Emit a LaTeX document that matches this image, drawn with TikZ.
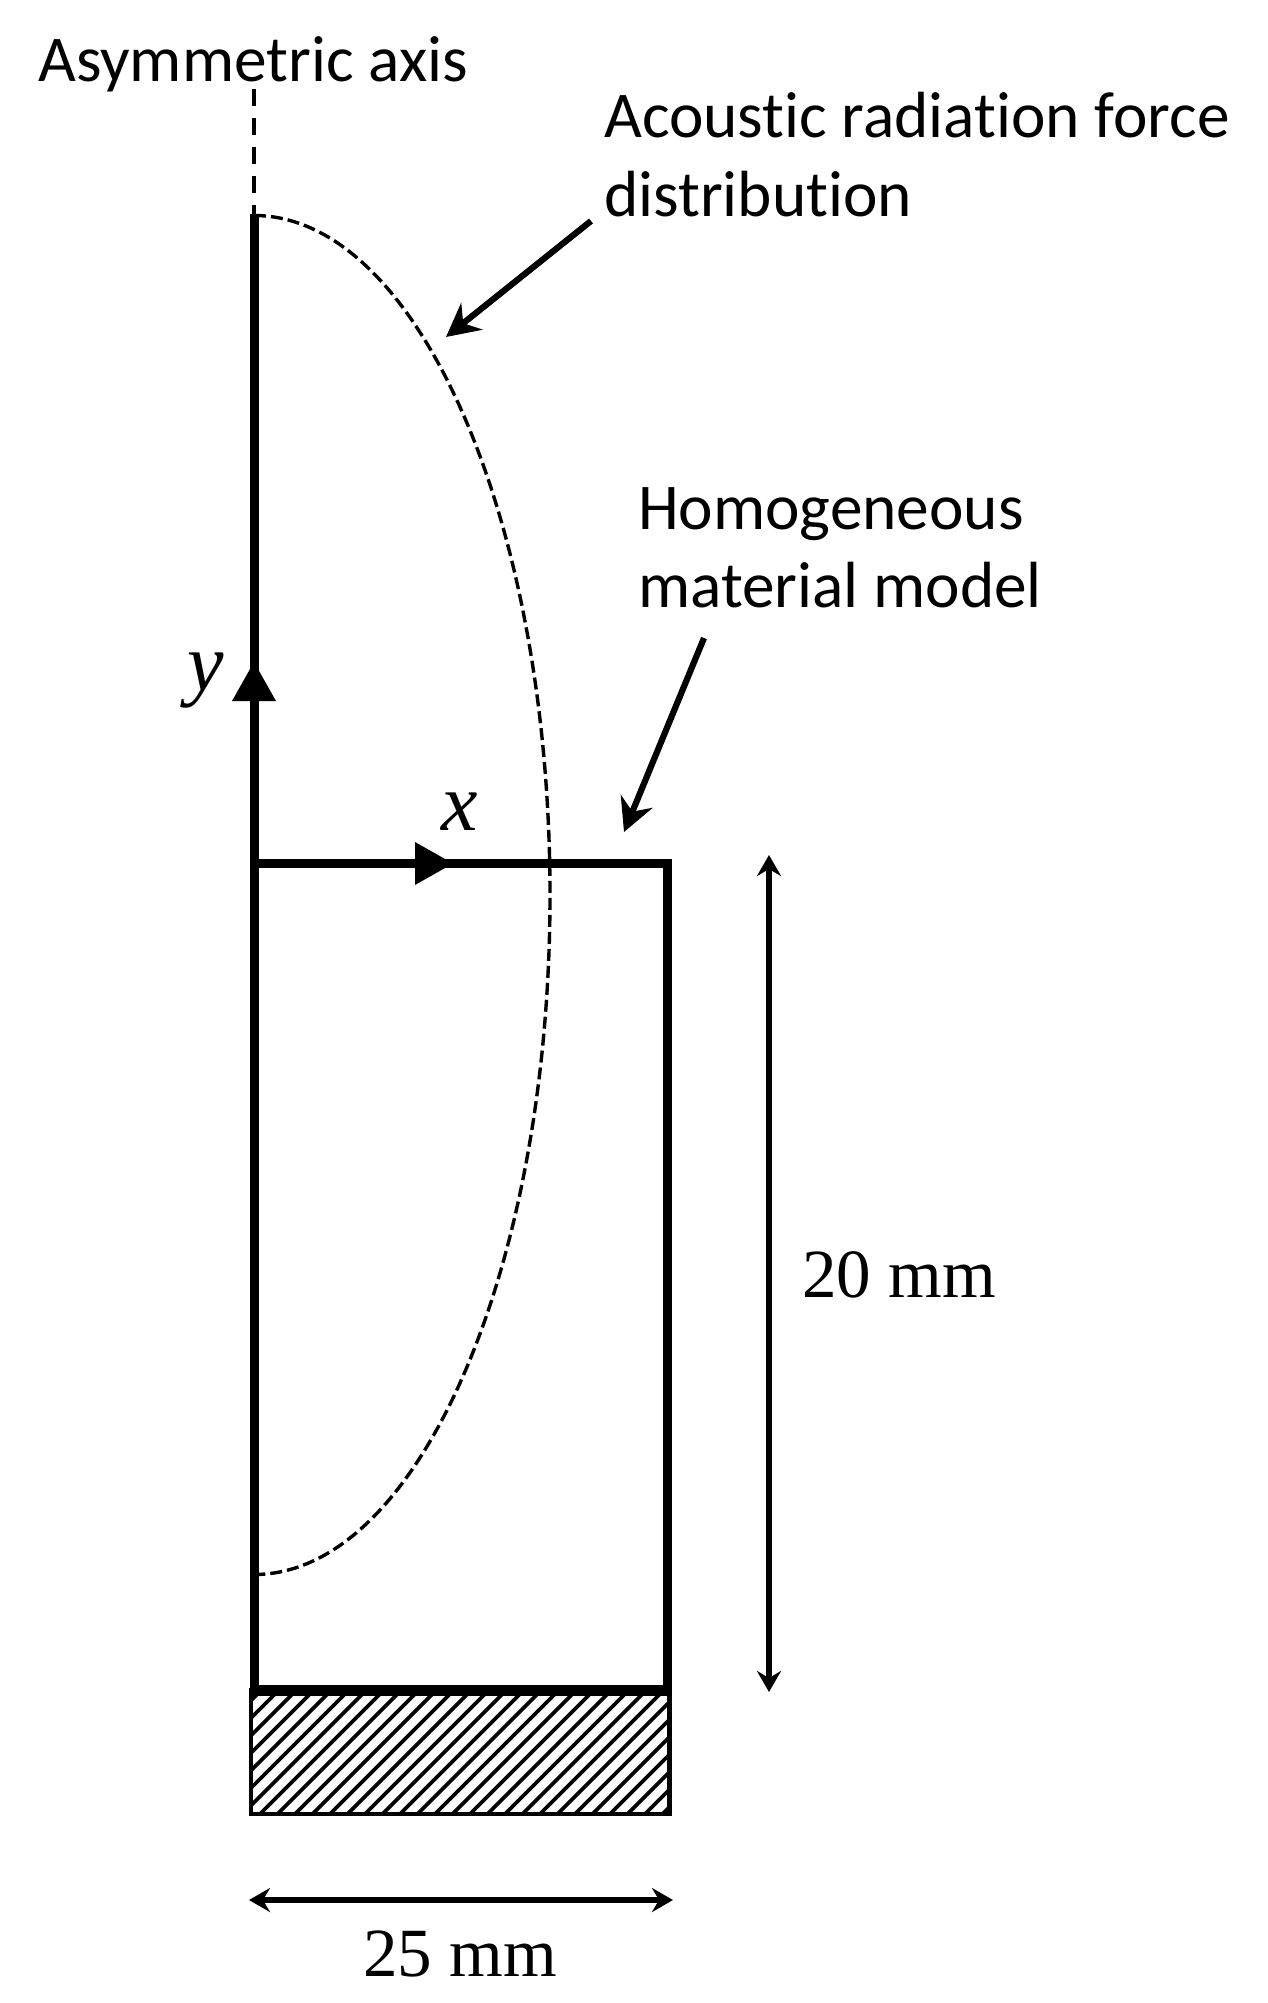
\documentclass[tikz,border=0pt]{standalone}
\usepackage{fontspec}
\setmainfont{Carlito}[Ligatures=NoCommon]
\newfontfamily\serifface{Liberation Serif}
\usetikzlibrary{arrows.meta}
\tikzset{
  lab/.style={inner sep=0pt,anchor=base west,font=\fontsize{65.3}{78}\selectfont},
  dimlab/.style={inner sep=0pt,anchor=base west,font=\fontsize{69}{80}\serifface},
  varlab/.style={inner sep=0pt,anchor=base west,font=\fontsize{82}{90}\serifface\itshape},
  wall/.style={line width=9pt,line cap=butt,line join=miter},
  axisdash/.style={line width=3.8pt,dash pattern=on 17pt off 12pt},
  curvedash/.style={line width=3.4pt,dash pattern=on 12pt off 5pt},
  pointer/.style={line width=6.2pt,-{Stealth[length=33pt,width=34pt,inset=11pt]}},
  dimarrow/.style={line width=6pt,{Stealth[length=21pt,width=24pt,inset=7pt]}-{Stealth[length=21pt,width=24pt,inset=7pt]}},
  hatchline/.style={line width=3.8pt},
  headfill/.style={fill=black,draw=none}
}
\begin{document}
\begin{tikzpicture}[x=1pt,y=-1pt]
\useasboundingbox (0,0) rectangle (1268,2003);
% hatched base
\begin{scope}
  \clip (251,1690) rectangle (669.5,1814);
  \foreach \s in {0,1,...,34}{
    \draw[hatchline] ({104+\s*17.5},1830) -- ++(170,-170);
  }
\end{scope}
\draw[line width=4.4pt] (251,1690) rectangle (669.5,1814);
% axis and model
\coordinate (axtop) at (254,89);
\coordinate (wtop) at (254,214);
\coordinate (origin) at (254,863);
\coordinate (tr) at (667.5,863);
\coordinate (br) at (667.5,1690);
\coordinate (bl) at (254,1690);
\draw[axisdash] (axtop) -- (wtop);
\draw[wall] (wtop) -- (bl);
\draw[wall] (origin) -- (tr) -- (br);
\draw[line width=11pt] (250,1690.5) -- (671.5,1690.5);
% axis heads
\fill[headfill] (254,662) -- (276,701) -- (232,701) -- cycle;
\fill[headfill] (453,863.5) -- (415,842) -- (415,885) -- cycle;
% curve
\draw[curvedash] (254,215.5) arc[start angle=-90,end angle=90,x radius=296,y radius=679.5];
% labels
\node[lab] (asym) at (38,81) {Asymmetric axis};
\node[lab] (acou) at (604,137) {Acoustic radiation force};
\node[lab] (dist) at (604,216) {distribution};
\node[lab] (homo) at (638,529) {Homogeneous};
\node[lab] (mate) at (638,607) {material model};
\node[varlab] (ylab) at (187,690) {y};
\node[varlab] (xlab) at (441,830) {x};
\node[dimlab] (h20) at (802,1297) {20 mm};
\node[dimlab] (w25) at (363,1976) {25 mm};
% pointers
\coordinate (p1s) at (591,221);
\coordinate (p1e) at (446,337);
\coordinate (p2s) at (704,638);
\coordinate (p2e) at (624,832);
\draw[pointer] (p1s) -- (p1e);
\draw[pointer] (p2s) -- (p2e);
% dimensions
\coordinate (d1a) at (769,855);
\coordinate (d1b) at (769,1692);
\coordinate (d2a) at (249,1900);
\coordinate (d2b) at (673,1900);
\draw[dimarrow] (d1a) -- (d1b);
\draw[dimarrow] (d2a) -- (d2b);
\end{tikzpicture}
\end{document}
